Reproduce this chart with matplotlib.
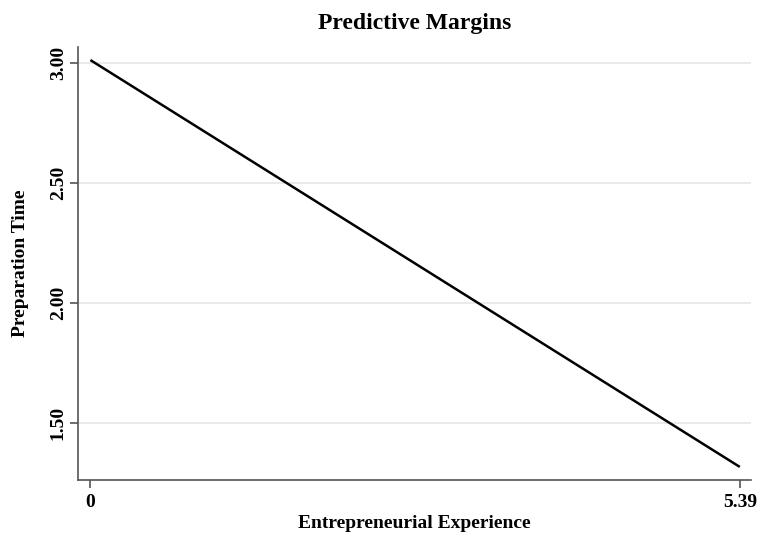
import matplotlib
matplotlib.use("Agg")
import matplotlib.pyplot as plt

# Predicted margins of preparation time across entrepreneurial experience
experience = [0.0, 5.39]
prep_time = [3.0125, 1.317]
y_ticks = [1.50, 2.00, 2.50, 3.00]
y_tick_labels = ["1.50", "2.00", "2.50", "3.00"]
x_ticks = [0.0, 5.39]
x_tick_labels = ["0", "5.39"]

W, H = 758, 533
fig = plt.figure(figsize=(W / 100, H / 100), dpi=100)
ax = fig.add_axes([78 / W, 1 - 480 / H, (751 - 78) / W, (480 - 47) / H])

plt.rcParams["font.family"] = ["Liberation Serif", "DejaVu Serif"]
font = dict(family=["Liberation Serif", "DejaVu Serif"], weight="bold")

for y in y_ticks:
    ax.axhline(y, color="#e6e6e6", lw=1.2, zorder=0)

ax.plot(experience, prep_time, color="black", lw=1.8, solid_capstyle="butt")

ax.set_xlim(-0.103, 5.483)
ax.set_ylim(1.2625, 3.067)

ax.set_xticks(x_ticks)
ax.set_xticklabels(x_tick_labels, **font, fontsize=14)
ax.set_yticks(y_ticks)
ax.set_yticklabels(y_tick_labels, **font, fontsize=14, rotation=90, va="center")

ax.tick_params(axis="both", direction="out", length=6, width=1.2, color="#555555")
ax.tick_params(axis="y", pad=2)
ax.tick_params(axis="x", pad=4)

for side in ["top", "right"]:
    ax.spines[side].set_visible(False)
for side in ["left", "bottom"]:
    ax.spines[side].set_color("#555555")
    ax.spines[side].set_linewidth(1.2)

ax.set_title("Predictive Margins", **font, fontsize=17, pad=13)
ax.set_xlabel("Entrepreneurial Experience", **font, fontsize=14)
ax.set_ylabel("Preparation Time", **font, fontsize=14)
ax.xaxis.set_label_coords(0.5, (480 - 515) / 433)
ax.yaxis.set_label_coords((29 - 78) / 673, 0.5)

fig.savefig("out.png", dpi=100, facecolor="white")
